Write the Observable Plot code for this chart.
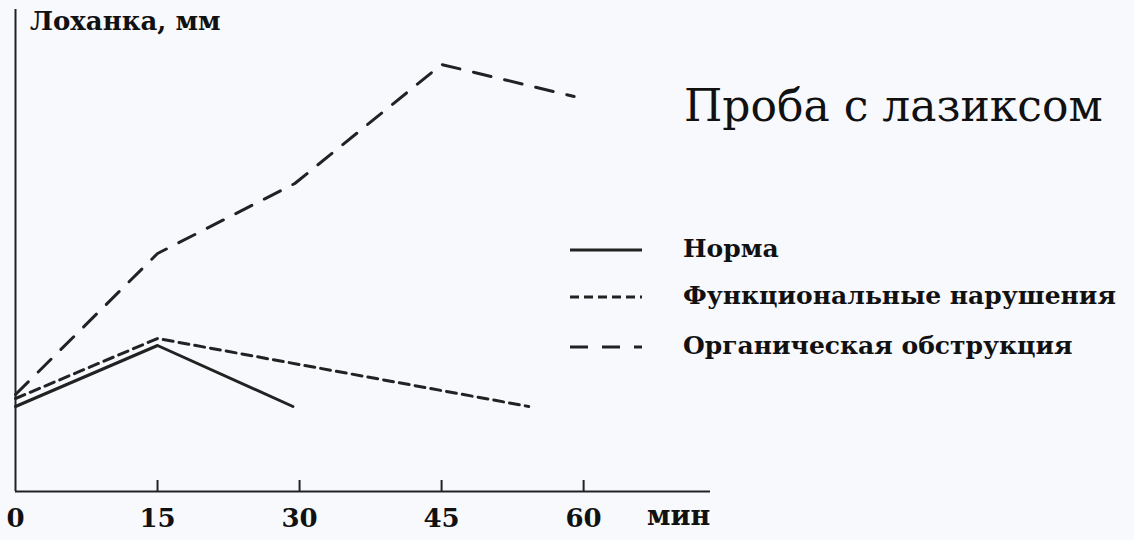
<!DOCTYPE html>
<html>
<head>
<meta charset="utf-8">
<script src="https://cdn.jsdelivr.net/npm/d3@7"></script>
<script src="https://cdn.jsdelivr.net/npm/@observablehq/plot@0.6"></script>
<style>
  html, body { margin: 0; padding: 0; background: #f8f9fd; }
  #wrap { position: relative; width: 1134px; height: 540px; overflow: hidden; font-family: "DejaVu Serif", "Liberation Serif", serif; color: #111; }
  .abs { position: absolute; white-space: nowrap; }
</style>
</head>
<body>
<div id="wrap"></div>
<script>
// ---- data ----
const seriesNames = ["Норма", "Функциональные нарушения", "Органическая обструкция"];
const normaTime = [0, 15, 29.3];
const normaValue = [8.5, 14.6, 8.5];
const funcTime = [0, 15, 54.2];
const funcValue = [9.3, 15.3, 8.5];
const orgTime = [0, 15, 29.5, 45, 59];
const orgValue = [9.7, 23.8, 30.8, 42.7, 39.5];
const xTicks = [0, 15, 30, 45, 60];
const xTickLabels = ["0", "15", "30", "45", "60"];
const title = "Проба с лазиксом";
const yLabel = "Лоханка, мм";
const xUnit = "мин";

const toRows = (name, ts, vs) => ts.map((t, i) => ({series: name, t, v: vs[i]}));
const norma = toRows(seriesNames[0], normaTime, normaValue);
const func = toRows(seriesNames[1], funcTime, funcValue);
const org = toRows(seriesNames[2], orgTime, orgValue);

const ink = "#222";
const dashes = ["none", "10,6", "18,14"];

const chart = Plot.plot({
  width: 1134,
  height: 540,
  marginLeft: 15,
  marginRight: 424,
  marginTop: 9,
  marginBottom: 49,
  style: {background: "transparent", fontFamily: "DejaVu Serif, serif", color: "#111"},
  x: {domain: [0, 73.4], axis: null},
  y: {domain: [0, 48.2], axis: null},
  marks: [
    Plot.ruleY([0], {x1: 0, x2: 73.4, stroke: ink, strokeWidth: 2}),
    Plot.ruleX([0], {y1: 0, y2: 48.2, stroke: ink, strokeWidth: 2}),
    Plot.ruleX(xTicks.slice(1), {x: d => d, y1: 0, y2: 1.1, stroke: ink, strokeWidth: 2}),
    Plot.text(xTicks, {x: d => d, y: 0, text: (d, i) => xTickLabels[i], dy: 27, dx: (0), fontSize: 26, fontWeight: "bold", fill: "#111",
      textAnchor: "middle"}),
    Plot.line(norma, {x: "t", y: "v", stroke: ink, strokeWidth: 3}),
    Plot.line(func, {x: "t", y: "v", stroke: ink, strokeWidth: 3, strokeDasharray: dashes[1]}),
    Plot.line(org, {x: "t", y: "v", stroke: ink, strokeWidth: 3, strokeDasharray: dashes[2]})
  ]
});
const wrap = document.getElementById("wrap");
chart.style.position = "absolute";
chart.style.left = "0px";
chart.style.top = "0px";
wrap.appendChild(chart);

function addText(txt, left, top, size, bold) {
  const d = document.createElement("div");
  d.className = "abs";
  d.textContent = txt;
  d.style.left = left + "px";
  d.style.top = top + "px";
  d.style.fontSize = size + "px";
  d.style.fontWeight = bold ? "bold" : "normal";
  wrap.appendChild(d);
  return d;
}
addText(yLabel, 30, 6, 26, true);
addText(xUnit, 647, 500, 27, true);
addText(title, 684, 80, 44, false);

// legend
const legendY = [250, 297, 347];
seriesNames.forEach((name, i) => {
  const svg = d3.create("svg").attr("width", 80).attr("height", 10)
    .style("position", "absolute").style("left", "568px").style("top", (legendY[i] - 5) + "px");
  svg.append("line").attr("x1", 2).attr("x2", 74).attr("y1", 5).attr("y2", 5)
    .attr("stroke", ink).attr("stroke-width", 3)
    .attr("stroke-dasharray", i === 0 ? null : (i === 1 ? "9,5" : "18,14"));
  wrap.appendChild(svg.node());
  addText(name, 683, legendY[i] - 16, 25, true);
});
</script>
</body>
</html>
